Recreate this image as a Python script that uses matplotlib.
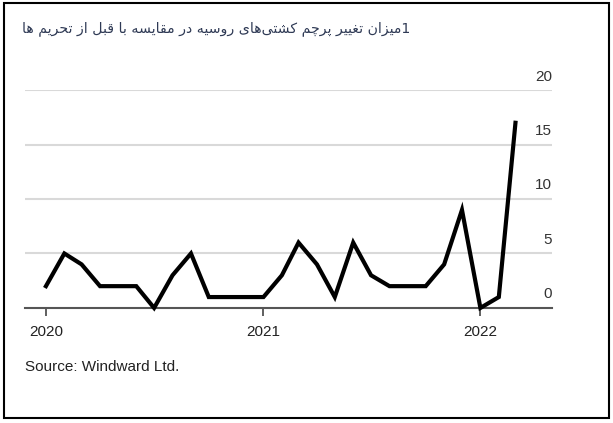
"""
Russian-flagged vessels: change vs. pre-sanctions level
"""

import datetime as dt

import matplotlib
matplotlib.use("Agg")
import matplotlib.pyplot as plt
import matplotlib.dates as mdates

# Monthly series, Jan 2020 - Mar 2022
months = [dt.date(2020 + i // 12, i % 12 + 1, 1) for i in range(27)]
values = [2, 5, 4, 2, 2, 2, 0, 3, 5, 1, 1, 1,
          1, 3, 6, 4, 1, 6, 3, 2, 2, 2, 4, 9,
          0, 1, 17]
yticks = [0, 5, 10, 15, 20]
xticks = [dt.date(2020, 1, 1), dt.date(2021, 1, 1), dt.date(2022, 1, 1)]

title = "1میزان تغییر پرچم کشتی\u200cهای روسیه در مقایسه با قبل از تحریم ها"
source = "Source: Windward Ltd."


# --- tiny Persian shaper (matplotlib has no RTL / joining support) ---
FORMS = {  # iso, fin, ini, med
    "ا": ("\uFE8D", "\uFE8E", None, None),
    "ب": ("\uFE8F", "\uFE90", "\uFE91", "\uFE92"),
    "پ": ("\uFB56", "\uFB57", "\uFB58", "\uFB59"),
    "ت": ("\uFE95", "\uFE96", "\uFE97", "\uFE98"),
    "چ": ("\uFB7A", "\uFB7B", "\uFB7C", "\uFB7D"),
    "ح": ("\uFEA1", "\uFEA2", "\uFEA3", "\uFEA4"),
    "د": ("\uFEA9", "\uFEAA", None, None),
    "ر": ("\uFEAD", "\uFEAE", None, None),
    "ز": ("\uFEAF", "\uFEB0", None, None),
    "س": ("\uFEB1", "\uFEB2", "\uFEB3", "\uFEB4"),
    "ش": ("\uFEB5", "\uFEB6", "\uFEB7", "\uFEB8"),
    "غ": ("\uFECD", "\uFECE", "\uFECF", "\uFED0"),
    "ق": ("\uFED5", "\uFED6", "\uFED7", "\uFED8"),
    "ک": ("\uFB8E", "\uFB8F", "\uFB90", "\uFB91"),
    "ل": ("\uFEDD", "\uFEDE", "\uFEDF", "\uFEE0"),
    "م": ("\uFEE1", "\uFEE2", "\uFEE3", "\uFEE4"),
    "ن": ("\uFEE5", "\uFEE6", "\uFEE7", "\uFEE8"),
    "ه": ("\uFEE9", "\uFEEA", "\uFEEB", "\uFEEC"),
    "و": ("\uFEED", "\uFEEE", None, None),
    "ی": ("\uFEEF", "\uFEF0", "\uFEF3", "\uFEF4"),
}


def shape(text):
    out = []
    for i, c in enumerate(text):
        if c not in FORMS:
            if c != "\u200c":
                out.append(c)
            continue
        prev = text[i - 1] if i > 0 else ""
        nxt = text[i + 1] if i + 1 < len(text) else ""
        join_prev = prev in FORMS and FORMS[prev][2] is not None
        join_next = FORMS[c][2] is not None and nxt in FORMS
        iso, fin, ini, med = FORMS[c]
        if join_prev and join_next:
            out.append(med)
        elif join_prev:
            out.append(fin)
        elif join_next:
            out.append(ini)
        else:
            out.append(iso)
    return "".join(reversed(out))


fig = plt.figure(figsize=(6.13, 4.23), dpi=100)
ax = fig.add_axes([0.041, 0.272, 0.86, 0.515])

# Grid lines, with the labels sitting on top of them at the right end
for v in yticks[1:]:
    ax.axhline(v, color="#d9d9d9", lw=1.5, zorder=0)
for v in yticks:
    ax.text(1.0, v + 0.6, str(v), transform=ax.get_yaxis_transform(),
            ha="right", va="bottom", fontsize=11, color="#333333",
            family="Liberation Sans")

ax.plot(months, values, color="black", lw=3, solid_joinstyle="miter",
        clip_on=False, zorder=3)

ax.set_ylim(0, 20)
ax.set_xlim(dt.date(2019, 11, 27), dt.date(2022, 5, 2))
ax.set_yticks([])
ax.set_xticks(xticks)
ax.xaxis.set_major_formatter(mdates.DateFormatter("%Y"))
ax.tick_params(axis="x", length=6, width=1.2, color="#444444", pad=6,
               labelsize=11, labelcolor="#222222")
for lbl in ax.get_xticklabels():
    lbl.set_family("Liberation Sans")

for side in ["top", "left", "right"]:
    ax.spines[side].set_visible(False)
ax.spines["bottom"].set_color("#555555")
ax.spines["bottom"].set_linewidth(1.5)

# Title and source
fig.text(0.036, 0.932, shape(title), fontsize=10.2,
         color="#2f3a55", ha="left", va="center",
         family=["DejaVu Sans", "Noto Sans"])
fig.text(0.041, 0.132, source, fontsize=11, color="#222222",
         family="Liberation Sans", ha="left", va="center")

# Outer frame
fig.add_artist(plt.Rectangle((0.006, 0.013), 0.988, 0.98, transform=fig.transFigure,
                             fill=False, edgecolor="black", lw=1.5))

fig.savefig("out.png", dpi=100)
